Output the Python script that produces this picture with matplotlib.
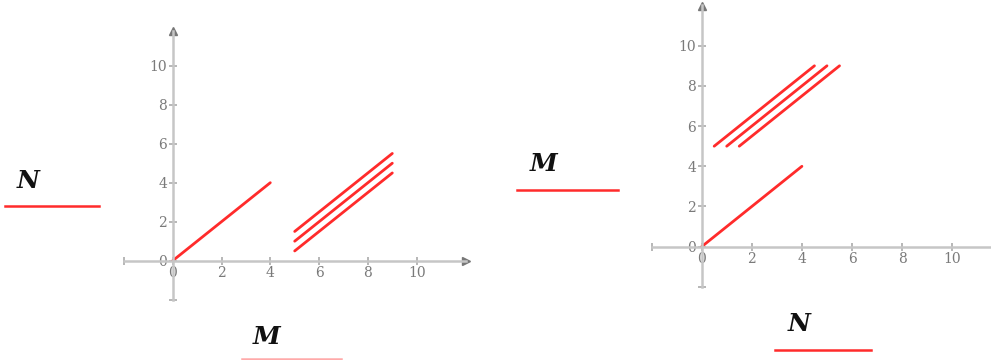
import matplotlib
matplotlib.use("Agg")
import matplotlib.pyplot as plt
from matplotlib.lines import Line2D

# segment endpoints for each panel
left_seg_x = [[0, 4], [5, 9], [5, 9], [5, 9]]
left_seg_y = [[0, 4], [0.5, 4.5], [1, 5], [1.5, 5.5]]
right_seg_x = [[0, 4], [0.5, 4.5], [1, 5], [1.5, 5.5]]
right_seg_y = [[0, 4], [5, 9], [5, 9], [5, 9]]

ticks = [-2, 0, 2, 4, 6, 8, 10]
tick_labels = ["", "0", "2", "4", "6", "8", "10"]

RED = "#ff2b2b"
AXIS = "#c6c6c6"
ARROW = "#777777"

fig = plt.figure(figsize=(9.91, 3.6), dpi=100)
W, H = 991, 360


def make_axes(x0, y_top, x1, y_bot, xlim, ylim):
    ax = fig.add_axes([x0 / W, 1 - y_bot / H, (x1 - x0) / W, (y_bot - y_top) / H])
    ax.set_xlim(*xlim)
    ax.set_ylim(*ylim)
    for s in ["top", "right"]:
        ax.spines[s].set_visible(False)
    for s in ["left", "bottom"]:
        ax.spines[s].set_position("zero")
        ax.spines[s].set_color(AXIS)
        ax.spines[s].set_linewidth(1.8)
    ax.set_xticks(ticks)
    ax.set_xticklabels(tick_labels)
    ax.set_yticks(ticks)
    ax.set_yticklabels(tick_labels)
    ax.tick_params(direction="inout", length=6, width=1.2, color="#aaaaaa",
                   labelcolor="#7a7a7a", labelsize=10, pad=1)
    for lab in ax.get_xticklabels() + ax.get_yticklabels():
        lab.set_family("DejaVu Serif")
    ax.plot(1, 0, ">", color=ARROW, ms=6, transform=ax.get_yaxis_transform(), clip_on=False)
    ax.plot(0, 1, "^", color=ARROW, ms=6, transform=ax.get_xaxis_transform(), clip_on=False)
    ax.patch.set_alpha(0)
    return ax


ax1 = make_axes(123.9, 30.6, 465.5, 299.7, (-2, 12), (-2, 11.8))
for xs, ys in zip(left_seg_x, left_seg_y):
    ax1.plot(xs, ys, color=RED, lw=2, solid_capstyle="round")

ax2 = make_axes(651.5, 5.5, 1015.0, 286.9, (-2, 12.5), (-2, 12.0))
for xs, ys in zip(right_seg_x, right_seg_y):
    ax2.plot(xs, ys, color=RED, lw=2, solid_capstyle="round")


def label(text, tx, ty, lx0, lx1, ly, alpha=1.0):
    fig.text(tx / W, 1 - ty / H, text, family="DejaVu Serif", weight="bold",
             style="italic", fontsize=18, color="#111111", ha="center", va="center")
    fig.add_artist(Line2D([lx0 / W, lx1 / W], [1 - ly / H, 1 - ly / H],
                          color=RED, lw=1.8, alpha=alpha))


label("N", 28.5, 181, 5, 99, 206)
label("M", 267, 337, 242, 341, 359, alpha=0.4)
label("M", 544, 164, 517, 618, 190)
label("N", 799, 324, 775, 871, 350)

fig.savefig("out.png", dpi=100)
